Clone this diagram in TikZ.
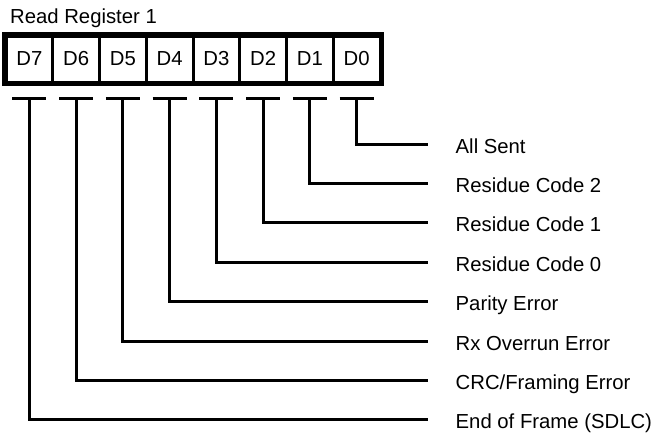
\documentclass[tikz,border=0pt]{standalone}
\usepackage{fontspec}
\setmainfont{Liberation Sans}
\usepackage{tikz}

\begin{document}
\begin{tikzpicture}[
  x=1pt,
  y=-1pt,
  font=\fontsize{20.3}{24}\selectfont,
  bitcell/.style={draw, line width=3pt, minimum width=46.75pt, minimum height=46.5pt, inner sep=0pt,
                  text height=14.5pt, text depth=3pt},
  wire/.style={line width=3pt, line join=miter},
  desc/.style={anchor=base west, inner sep=0pt}
]

% White background
\fill[white] (0,0) rectangle (658,434);
\useasboundingbox (0,0) rectangle (658,434);

% Title
\node[desc] (title) at (10,23.5) {Read Register 1};

% Register cells
\foreach \b [count=\i from 0] in {7,6,5,4,3,2,1,0} {
  \node[bitcell] (d\b) at (29.4+46.75*\i,59.25) {D\b};
}

% Outer frame
\draw[line width=4.5pt] (d7.north west) rectangle (d0.south east);

% Bit descriptions
\foreach \b/\txt in {0/All Sent,1/Residue Code 2,2/Residue Code 1,3/Residue Code 0,
                     4/Parity Error,5/Rx Overrun Error,6/{CRC/Framing Error},7/End of Frame (SDLC)} {
  \coordinate (t\b) at ([yshift=-14pt]d\b.south);
  \coordinate (e\b) at (428,144+39.4*\b);
  \node[desc] (l\b) at (455.5,153+39.4*\b) {\txt};
  \draw[wire] ([xshift=-17pt]t\b) -- ([xshift=17pt]t\b);
  \draw[wire] (t\b) |- (e\b);
}

\end{tikzpicture}
\end{document}
